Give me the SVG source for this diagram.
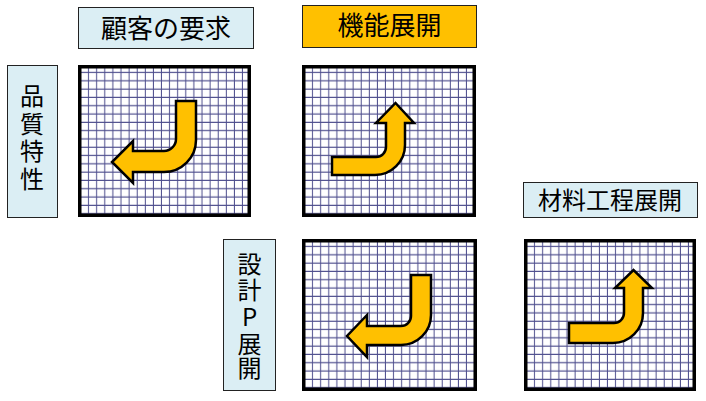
<svg xmlns="http://www.w3.org/2000/svg" width="706" height="401" viewBox="0 0 706 401">
<style>
.lbl{fill:#DBEEF4;stroke:#222;stroke-width:1}
.lblo{fill:#FFC000;stroke:#222;stroke-width:1}
.txt{font-family:"Noto Sans CJK JP","Noto Sans CJK SC",sans-serif;font-weight:400;fill:#000;text-anchor:middle}
.gridbg{fill:url(#grid)}
.frame{fill:none;stroke:#000;stroke-width:3.5}
.arrow{fill:#FFC000;stroke:#000;stroke-width:2.5;stroke-linejoin:miter}
</style>
<defs>
<pattern id="grid" patternUnits="userSpaceOnUse" x="-1.5" y="3.5" width="8.1" height="8.3">
<path d="M4 0V8.3M0 4H8.1" fill="none" stroke="#4C4C8C" stroke-width="1"/>
</pattern>
</defs>
<rect width="706" height="401" fill="#fff"/>

<g id="label-customer">
<rect class="lbl" x="78.5" y="7.5" width="175" height="41"/>
<text class="txt" x="166" y="37.5" font-size="26">顧客の要求</text>
</g>
<g id="label-function">
<rect class="lblo" x="302.5" y="5.5" width="174" height="42"/>
<text class="txt" x="389.5" y="35" font-size="26">機能展開</text>
</g>
<g id="label-quality">
<rect class="lbl" x="7.5" y="65.5" width="50" height="152"/>
<text class="txt" font-size="24"><tspan x="32" y="105">品</tspan><tspan x="32" y="132.5">質</tspan><tspan x="32" y="160">特</tspan><tspan x="32" y="187.5">性</tspan></text>
</g>
<g id="label-design">
<rect class="lbl" x="223.5" y="239.5" width="52" height="151"/>
<text class="txt" font-size="24"><tspan x="249.5" y="273">設</tspan><tspan x="249.5" y="299">計</tspan><tspan x="249.5" y="325.5">P</tspan><tspan x="249.5" y="353">展</tspan><tspan x="249.5" y="377">開</tspan></text>
</g>
<g id="label-material">
<rect class="lbl" x="523.5" y="182.5" width="174" height="35"/>
<text class="txt" x="610" y="208.5" font-size="24">材料工程展開</text>
</g>

<g id="matrix-1" transform="translate(78,65)">
<rect class="gridbg" x="0" y="0" width="173" height="152"/>
<rect class="frame" x="1.75" y="1.75" width="169.5" height="148.5"/>
</g>
<g id="matrix-2" transform="translate(302,65)">
<rect class="gridbg" x="0" y="0" width="174" height="152"/>
<rect class="frame" x="1.75" y="1.75" width="170.5" height="148.5"/>
</g>
<g id="matrix-3" transform="translate(302,239)">
<rect class="gridbg" x="0" y="0" width="175" height="152"/>
<rect class="frame" x="1.75" y="1.75" width="171.5" height="148.5"/>
</g>
<g id="matrix-4" transform="translate(524,239)">
<rect class="gridbg" x="0" y="0" width="172" height="152"/>
<rect class="frame" x="1.75" y="1.75" width="168.5" height="148.5"/>
</g>

<g id="arrows">
<path id="arrow-1" class="arrow" d="M176,101 H196 V140 A32,32 0 0 1 164,172 H133 V183 L112,162 L133,141 V151 H164 A12,12 0 0 0 176,139 Z"/>
<path id="arrow-2" class="arrow" d="M332,157 H376 A10,10 0 0 0 386,147 V123 H376 L395.5,103 L414,123 H405 V145 A30,30 0 0 1 375,175 H332 Z"/>
<path id="arrow-3" class="arrow" d="M411,275 H431 V315 A30,30 0 0 1 401,345 H367 V357 L347,336 L367,315 V326 H401 A10,10 0 0 0 411,316 Z"/>
<path id="arrow-4" class="arrow" d="M569,323 H614 A10,10 0 0 0 624,313 V288 H615 L633.5,270 L652,288 H643 V313 A30,30 0 0 1 613,343 H569 Z"/>
</g>
<g id="connectors"/>
</svg>
